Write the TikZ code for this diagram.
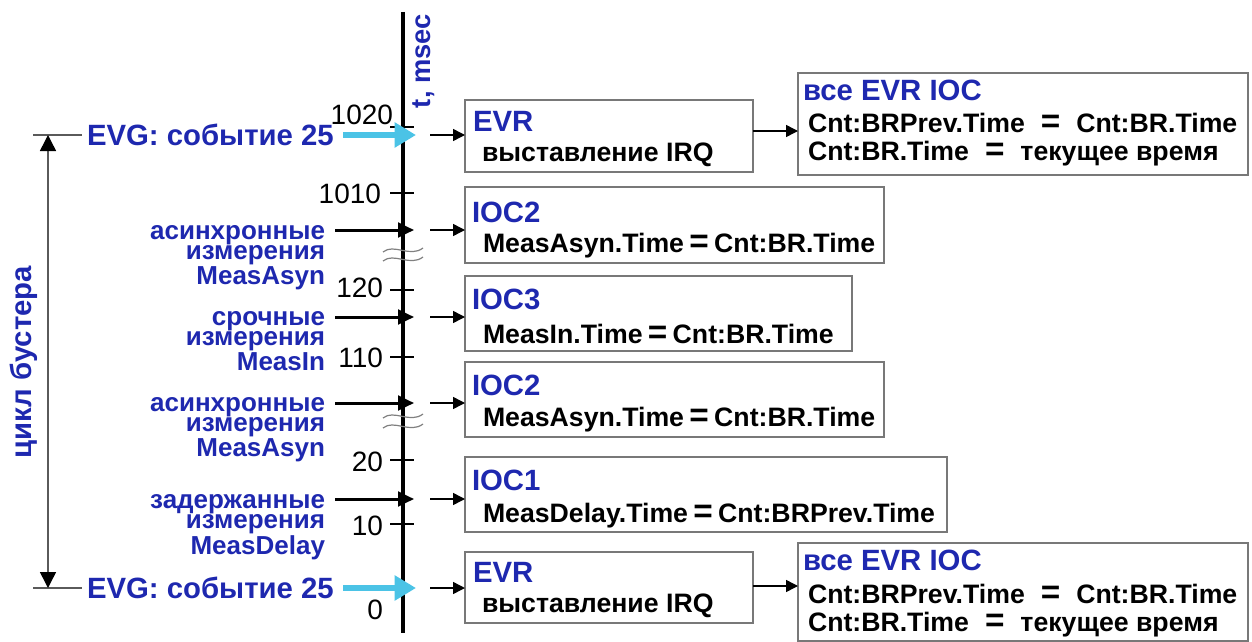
\documentclass[tikz,border=0pt]{standalone}
\usepackage{fontspec}
\setmainfont{Liberation Sans}
\usetikzlibrary{arrows.meta,fit}
\definecolor{evblue}{RGB}{30,40,175}
\definecolor{evcyan}{RGB}{75,195,230}
\definecolor{boxgray}{RGB}{120,120,120}
\definecolor{cyclegray}{RGB}{90,90,90}
% a wide, heavy equals sign for the assignments
\newcommand{\eqsign}{{\fontsize{25}{24}\selectfont =}}
\newcommand{\tighteq}{\hspace{4pt}\eqsign\hspace{4pt}}
\newcommand{\wideeq}{\hspace{12pt}\eqsign\hspace{12pt}}

\begin{document}
\begin{tikzpicture}[x=0.75pt,y=-0.75pt,
  every node/.style={inner sep=0pt, outer sep=0pt},
  box/.style={draw=boxgray, line width=1.1pt, inner sep=0pt},
  ttl/.style={anchor=west, text=evblue, font=\fontsize{22}{24}\selectfont\bfseries},
  bdy/.style={anchor=west, font=\fontsize{20}{24}\selectfont\bfseries},
  grp/.style={anchor=north east, align=right, text=evblue, font=\fontsize{19.5}{15.6}\selectfont\bfseries},
  evg/.style={anchor=west, text=evblue, font=\fontsize{22}{24}\selectfont\bfseries},
  vlab/.style={rotate=90, text=evblue, font=\fontsize{#1}{24}\selectfont\bfseries},
  tlab/.style={anchor=east, font=\fontsize{21}{22}\selectfont},
  axisline/.style={line width=2.4pt},
  tickline/.style={line width=2pt},
  measarr/.style={line width=2.25pt, -{Triangle[length=12pt,width=11pt]}},
  evgarr/.style={evcyan, line width=4.5pt, -{Triangle[length=16pt,width=18pt]}},
  smallarr/.style={line width=1.1pt, -{Triangle[length=9pt,width=9pt]}},
  cyclearr/.style={cyclegray, line width=1.1pt,
    {Triangle[length=12pt,width=12pt,color=black]}-{Triangle[length=12pt,width=12pt,color=black]}},
  guide/.style={cyclegray, line width=1.1pt},
  breakmark/.style={gray, line width=0.9pt}
]
\useasboundingbox (0,0) rectangle (1252,642);

% ---------- time axis ----------
\coordinate (axtop) at (403,12);
\coordinate (axbot) at (403,633);
\draw[axisline] (axtop) -- (axbot);
\node[vlab=20.5] (tunit) at (424,61) {t, msec};

% ticks and their values
\foreach \yy in {127,193,290,357,460,524}
  \draw[tickline] (390,\yy) -- (414,\yy);
\node[tlab] (l1020) at (393,115) {1020};
\node[tlab] (l1010) at (381,194) {1010};
\node[tlab] (l120)  at (383,288) {120};
\node[tlab] (l110)  at (383,358) {110};
\node[tlab] (l20)   at (383,462) {20};
\node[tlab] (l10)   at (383,526) {10};
\node[tlab] (l0)    at (383,610) {0};

% breaks of the time scale
\foreach \yy in {250,259,416,426}
  \draw[breakmark] (383,\yy+2) .. controls (394,\yy-7) and (410,\yy+8) .. (423,\yy-2);

% ---------- booster cycle ----------
\coordinate (cyctop) at (48,135);
\coordinate (cycbot) at (48,588);
\draw[guide] (33,135) -- (82,135);
\draw[guide] (33,588) -- (82,588);
\draw[cyclearr] (cyctop) -- (cycbot);
\node[vlab=22] (cycle) at (24,362) {цикл бустера};

% ---------- EVG events ----------
\node[evg] (evgtop) at (87,135) {EVG: событие 25};
\node[evg] (evgbot) at (87,588) {EVG: событие 25};

% ---------- measurement inputs ----------
\node[grp] (g1) at (325,225) {асинхронные\\измерения\\MeasAsyn};
\node[grp] (g2) at (325,311) {срочные\\измерения\\MeasIn};
\node[grp] (g3) at (325,397) {асинхронные\\измерения\\MeasAsyn};
\node[grp] (g4) at (325,494) {задержанные\\измерения\\MeasDelay};

\coordinate (m1s) at (335,230); \coordinate (m1e) at (414,230);
\coordinate (m2s) at (335,317); \coordinate (m2e) at (414,317);
\coordinate (m3s) at (335,403); \coordinate (m3e) at (414,403);
\coordinate (m4s) at (335,499); \coordinate (m4e) at (414,499);
\draw[measarr] (m1s) -- (m1e);
\draw[measarr] (m2s) -- (m2e);
\draw[measarr] (m3s) -- (m3e);
\draw[measarr] (m4s) -- (m4e);

\coordinate (e1s) at (343,135); \coordinate (e1e) at (416,135);
\coordinate (e2s) at (343,588); \coordinate (e2e) at (416,588);
\draw[evgarr] (e1s) -- (e1e);
\draw[evgarr] (e2s) -- (e2e);

% ---------- boxes ----------
\node[box, fit={(465,100) (753,172)}] (evr1) {};
\node[ttl] (evr1t) at (473,121) {EVR};
\node[bdy] (evr1b) at (482,155) {выставление IRQ};

\node[box, fit={(798,73) (1248,175)}] (all1) {};
\node[ttl] (all1t) at (803,90) {все EVR IOC};
\node[bdy] (all1a) at (808,123) {Cnt:BRPrev.Time\wideeq Cnt:BR.Time};
\node[bdy] (all1b) at (808,154) {Cnt:BR.Time\wideeq текущее время};

\node[box, fit={(465,187) (884,263)}] (ioc2a) {};
\node[ttl] (ioc2at) at (472,212) {IOC2};
\node[bdy] (ioc2ab) at (483,246) {MeasAsyn.Time\tighteq Cnt:BR.Time};

\node[box, fit={(465,276) (852,351)}] (ioc3) {};
\node[ttl] (ioc3t) at (472,299) {IOC3};
\node[bdy] (ioc3b) at (483,334) {MeasIn.Time\tighteq Cnt:BR.Time};

\node[box, fit={(465,362) (884,437)}] (ioc2b) {};
\node[ttl] (ioc2bt) at (472,385) {IOC2};
\node[bdy] (ioc2bb) at (483,420) {MeasAsyn.Time\tighteq Cnt:BR.Time};

\node[box, fit={(465,457) (947,532)}] (ioc1) {};
\node[ttl] (ioc1t) at (472,480) {IOC1};
\node[bdy] (ioc1b) at (483,516) {MeasDelay.Time\tighteq Cnt:BRPrev.Time};

\node[box, fit={(465,552) (753,623)}] (evr2) {};
\node[ttl] (evr2t) at (473,572) {EVR};
\node[bdy] (evr2b) at (482,606) {выставление IRQ};

\node[box, fit={(798,543) (1248,641)}] (all2) {};
\node[ttl] (all2t) at (803,560) {все EVR IOC};
\node[bdy] (all2a) at (808,594) {Cnt:BRPrev.Time\wideeq Cnt:BR.Time};
\node[bdy] (all2b) at (808,625) {Cnt:BR.Time\wideeq текущее время};

% ---------- hand-over arrows ----------
\coordinate (o1) at (430,135);
\coordinate (o2) at (430,230);
\coordinate (o3) at (430,317);
\coordinate (o4) at (430,403);
\coordinate (o5) at (430,499);
\coordinate (o6) at (430,588);
\draw[smallarr] (o1) -- (o1 -| evr1.west);
\draw[smallarr] (o2) -- (o2 -| ioc2a.west);
\draw[smallarr] (o3) -- (o3 -| ioc3.west);
\draw[smallarr] (o4) -- (o4 -| ioc2b.west);
\draw[smallarr] (o5) -- (o5 -| ioc1.west);
\draw[smallarr] (o6) -- (o6 -| evr2.west);

\coordinate (h1) at (760,131);
\coordinate (h2) at (760,586);
\draw[smallarr] (h1 -| evr1.east) -- (h1 -| all1.west);
\draw[smallarr] (h2 -| evr2.east) -- (h2 -| all2.west);
\end{tikzpicture}
\end{document}
